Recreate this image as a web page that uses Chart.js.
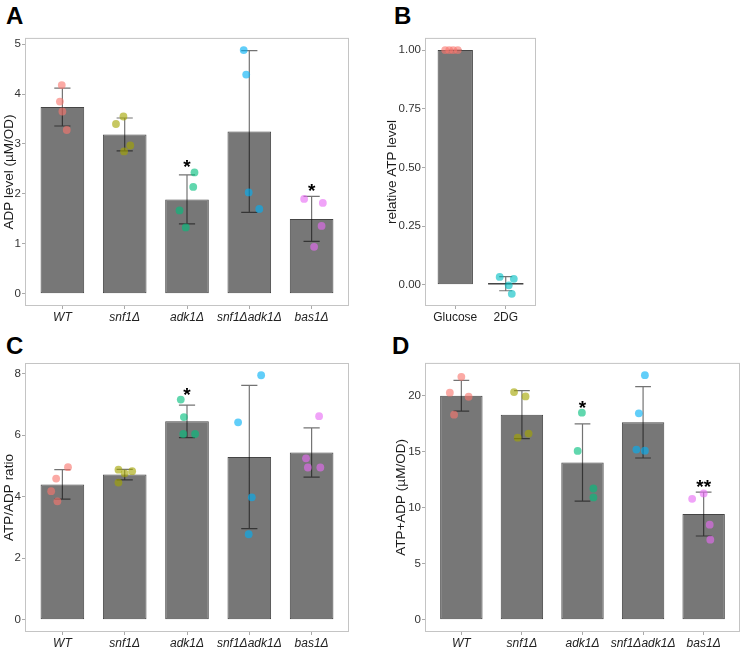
<!DOCTYPE html>
<html>
<head>
<meta charset="utf-8">
<script src="https://cdn.jsdelivr.net/npm/chart.js@4.4.1/dist/chart.umd.min.js"></script>
<style>
  body { margin: 0; background: #fff; width: 744px; height: 648px; position: relative; overflow: hidden; }
  .panel { position: absolute; }
  .letter { position: absolute; font-family: 'Liberation Sans', Arial, sans-serif; font-weight: bold; font-size: 24px; line-height: 24px; color: #000; }
</style>
</head>
<body>
<div class="letter" style="left:6px;top:4px">A</div>
<div class="letter" style="left:394px;top:4px">B</div>
<div class="letter" style="left:6px;top:334px">C</div>
<div class="letter" style="left:392px;top:334px">D</div>

<div class="panel" style="left:0;top:30px"><canvas id="chartA" width="360" height="295"></canvas></div>
<div class="panel" style="left:365px;top:30px"><canvas id="chartB" width="180" height="295"></canvas></div>
<div class="panel" style="left:0;top:355px"><canvas id="chartC" width="360" height="293"></canvas></div>
<div class="panel" style="left:365px;top:355px"><canvas id="chartD" width="379" height="293"></canvas></div>

<script>
// categories
const strains = ["WT", "snf1Δ", "adk1Δ", "snf1Δadk1Δ", "bas1Δ"];
const media = ["Glucose", "2DG"];

// A - ADP level (uM/OD)
const adpMean = [3.74, 3.19, 1.89, 3.25, 1.50];
const adpSd = [0.38, 0.33, 0.49, 1.62, 0.45];
const adpPoints = [[4.18, 3.85, 3.65, 3.28], [3.55, 3.40, 2.97, 2.85], [2.43, 2.14, 1.67, 1.33], [4.88, 4.39, 2.03, 1.70], [1.90, 1.82, 1.36, 0.94]];
const adpJitter = [[-0.01, -0.04, 0, 0.07], [-0.02, -0.14, 0.09, -0.01], [0.12, 0.10, -0.12, -0.02], [-0.09, -0.05, -0.01, 0.16], [-0.12, 0.18, 0.16, 0.04]];
const adpStars = ["", "", "*", "", "*"];
const adpTicks = [0, 1, 2, 3, 4, 5];

// B - relative ATP level
const atpMean = [1.0, 0.004];
const atpSd = [0, 0.03];
const atpPoints = [[1, 1, 1, 1], [0.033, 0.025, -0.003, -0.039]];
const atpJitter = [[-0.2, -0.12, -0.04, 0.05], [-0.12, 0.16, 0.06, 0.12]];
const atpStars = ["", ""];
const atpTicks = [0, 0.25, 0.5, 0.75, 1];

// C - ATP/ADP ratio
const ratioMean = [4.40, 4.72, 6.45, 5.29, 5.44];
const ratioSd = [0.48, 0.17, 0.53, 2.33, 0.80];
const ratioPoints = [[4.96, 4.59, 4.18, 3.85], [4.88, 4.83, 4.76, 4.46], [7.16, 6.59, 6.04, 6.04], [7.95, 6.42, 3.98, 2.78], [6.62, 5.25, 4.95, 4.95]];
const ratioJitter = [[0.09, -0.10, -0.18, -0.08], [-0.10, 0.12, 0, -0.10], [-0.10, -0.05, -0.06, 0.13], [0.19, -0.18, 0.04, -0.01], [0.12, -0.09, -0.06, 0.14]];
const ratioStars = ["", "", "*", "", ""];
const ratioTicks = [0, 2, 4, 6, 8];

// D - ATP+ADP (uM/OD)
const sumMean = [20.0, 18.31, 14.04, 17.63, 9.44];
const sumSd = [1.38, 2.14, 3.44, 3.19, 1.96];
const sumPoints = [[21.69, 20.27, 19.91, 18.31], [20.33, 19.94, 16.62, 16.26], [18.49, 15.07, 11.72, 10.92], [21.84, 18.43, 15.19, 15.10], [10.80, 11.28, 8.49, 7.15]];
const sumJitter = [[0, -0.19, 0.12, -0.12], [-0.13, 0.06, 0.11, -0.07], [-0.01, -0.08, 0.18, 0.18], [0.03, -0.07, -0.11, 0.03], [-0.19, 0, 0.10, 0.11]];
const sumStars = ["", "", "*", "", "**"];
const sumTicks = [0, 5, 10, 15, 20];

const hue5 = ["rgba(248,118,109,0.62)", "rgba(163,165,0,0.62)", "rgba(0,191,125,0.62)", "rgba(0,176,246,0.62)", "rgba(231,107,243,0.62)"];
const hue2 = ["rgba(248,118,109,0.62)", "rgba(0,191,196,0.62)"];

Chart.defaults.font.family = "'Liberation Sans', Arial, sans-serif";

function makePanel(id, cats, means, sds, points, jitter, colors, stars, tickVals, yTitle, italic, decimals, box) {
  const n = cats.length;
  const flat = points.flat();
  const lo = Math.min(0, ...flat);
  const hi = Math.max(...flat, ...means.map((m, i) => m + sds[i]));
  const pad = (hi - lo) * 0.05;

  const datasets = [{
    type: 'bar',
    data: means.map((m, i) => ({x: i + 1, y: m})),
    backgroundColor: '#777777',
    borderColor: '#454545',
    borderWidth: 1,
    borderSkipped: false,
    barPercentage: 0.7,
    categoryPercentage: 1,
    order: 2
  }];
  points.forEach((p, i) => {
    datasets.push({
      type: 'scatter',
      data: p.map((v, j) => ({x: i + 1 + jitter[i][j], y: v})),
      backgroundColor: colors[i],
      borderWidth: 0,
      pointRadius: 3.9,
      order: 1
    });
  });

  const extras = {
    id: 'extras' + id,
    afterDatasetDraw(chart, args) {
      if (args.index !== 0) return;
      const {ctx, scales: {x, y}} = chart;
      const half = x.getPixelForValue(1.13) - x.getPixelForValue(1);
      ctx.save();
      // flat bars still get their outline as a line
      ctx.strokeStyle = '#454545';
      ctx.lineWidth = 1.6;
      args.meta.data.forEach(bar => {
        if (Math.abs(bar.base - bar.y) < 3) {
          ctx.beginPath();
          ctx.moveTo(bar.x - bar.width / 2, bar.y);
          ctx.lineTo(bar.x + bar.width / 2, bar.y);
          ctx.stroke();
        }
      });
      ctx.strokeStyle = 'rgba(0,0,0,0.55)';
      ctx.lineWidth = 1.2;
      ctx.beginPath();
      means.forEach((m, i) => {
        const cx = x.getPixelForValue(i + 1);
        const top = y.getPixelForValue(m + sds[i]);
        const bot = y.getPixelForValue(m - sds[i]);
        ctx.moveTo(cx, top); ctx.lineTo(cx, bot);
        ctx.moveTo(cx - half, top); ctx.lineTo(cx + half, top);
        ctx.moveTo(cx - half, bot); ctx.lineTo(cx + half, bot);
      });
      ctx.stroke();
      ctx.restore();
    },
    afterDraw(chart) {
      const {ctx, chartArea: a, scales: {x, y}} = chart;
      ctx.save();
      ctx.strokeStyle = '#c4c4c4';
      ctx.lineWidth = 1;
      ctx.strokeRect(a.left + 0.5, a.top + 0.5, a.right - a.left - 1, a.bottom - a.top - 1);
      ctx.fillStyle = '#000';
      ctx.font = "bold 19px 'Liberation Sans', Arial, sans-serif";
      ctx.textAlign = 'center';
      ctx.textBaseline = 'alphabetic';
      stars.forEach((s, i) => {
        if (!s) return;
        const top = Math.max(means[i] + sds[i], ...points[i]);
        ctx.fillText(s, x.getPixelForValue(i + 1), y.getPixelForValue(top) + 1);
      });
      ctx.restore();
    }
  };

  new Chart(document.getElementById(id), {
    type: 'scatter',
    data: {datasets: datasets},
    options: {
      responsive: false,
      animation: false,
      layout: {padding: {top: box.top, right: box.right, left: box.left, bottom: 0}},
      plugins: {legend: {display: false}, tooltip: {enabled: false}},
      scales: {
        x: {
          type: 'linear',
          min: 0.4,
          max: n + 0.6,
          offset: false,
          afterBuildTicks: s => { s.ticks = cats.map((c, i) => ({value: i + 1})); },
          afterFit: s => { s.height = box.xH; },
          ticks: {
            autoSkip: false, maxRotation: 0, padding: 1, color: '#222',
            font: {size: 12, style: italic ? 'italic' : 'normal'},
            callback: (v, i) => cats[i]
          },
          grid: {drawOnChartArea: false, offset: false, tickLength: 3, color: '#aaa'},
          border: {display: false}
        },
        y: {
          min: lo - pad,
          max: hi + pad,
          afterBuildTicks: s => { s.ticks = tickVals.map(v => ({value: v})); },
          afterFit: s => { s.width = box.yW; },
          ticks: {
            padding: 1, color: '#333', font: {size: 11.5},
            callback: v => v.toFixed(decimals)
          },
          grid: {drawOnChartArea: false, tickLength: 3, color: '#aaa'},
          border: {display: false},
          title: {display: true, text: yTitle, color: '#1a1a1a', font: {size: 13.5}, padding: {top: 1, bottom: 0}}
        }
      }
    },
    plugins: [extras]
  });
}

makePanel('chartA', strains, adpMean, adpSd, adpPoints, adpJitter, hue5, adpStars, adpTicks, 'ADP level (µM/OD)', true, 0,
  {top: 7, right: 11, left: 0, yW: 25, xH: 19});
makePanel('chartB', media, atpMean, atpSd, atpPoints, atpJitter, hue2, atpStars, atpTicks, 'relative ATP level', false, 2,
  {top: 7, right: 9, left: 18, yW: 42, xH: 19});
makePanel('chartC', strains, ratioMean, ratioSd, ratioPoints, ratioJitter, hue5, ratioStars, ratioTicks, 'ATP/ADP ratio', true, 0,
  {top: 8, right: 11, left: 0, yW: 25, xH: 16});
makePanel('chartD', strains, sumMean, sumSd, sumPoints, sumJitter, hue5, sumStars, sumTicks, 'ATP+ADP (µM/OD)', true, 0,
  {top: 7, right: 3, left: 27, yW: 33, xH: 16});
</script>
</body>
</html>
